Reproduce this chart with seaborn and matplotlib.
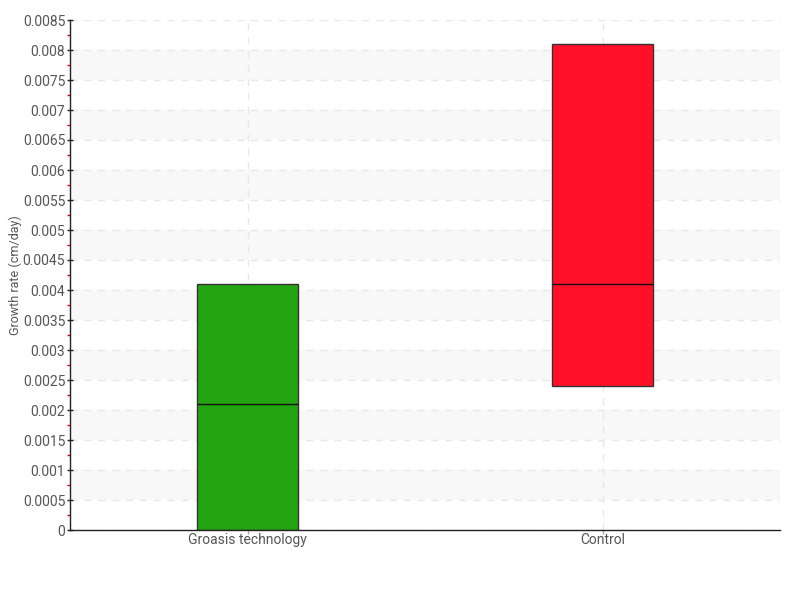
import matplotlib
matplotlib.use("Agg")
import matplotlib.pyplot as plt
import seaborn as sns
import pandas as pd
import numpy as np
from matplotlib.ticker import MultipleLocator, FuncFormatter

categories = ["Groasis technology", "Control"]
q1_values = [0.0, 0.0024]
median_values = [0.0021, 0.0041]
q3_values = [0.0041, 0.0081]
colors = ["#22a511", "#ff0f28"]

rows = []
for c, lo, md, hi in zip(categories, q1_values, median_values, q3_values):
    for v in [lo, lo, md, hi, hi]:
        rows.append({"group": c, "value": v})
df = pd.DataFrame(rows)

sns.set_style("white")
plt.rcParams['font.family'] = ['Roboto', 'DejaVu Sans']

fig = plt.figure(figsize=(8, 6), dpi=100)
ax = fig.add_axes([70/800, 70/600, 710/800, 510/600])

# alternating bands
for k in range(1, 16, 2):
    lo = k * 0.0005
    ax.axhspan(lo, lo + 0.0005, color="#f8f8f8", zorder=0, lw=0)

sns.boxplot(data=df, x="group", y="value", hue="group", palette=colors, legend=False,
            whis=0, showcaps=False, showfliers=False, width=0.282, ax=ax,
            linewidth=1, linecolor="#333333",
            medianprops=dict(color="#111111", linewidth=1),
            whiskerprops=dict(linewidth=0), saturation=1)

ax.set_xlim(-0.5, 1.5)
ax.set_ylim(0, 0.0085)
ax.yaxis.set_major_locator(MultipleLocator(0.0005))
ax.yaxis.set_minor_locator(MultipleLocator(0.00025))
ax.yaxis.set_major_formatter(FuncFormatter(lambda v, p: "0" if abs(v) < 1e-12 else f"{v:.4f}".rstrip("0")))

ax.grid(True, axis="y", which="major", linestyle=(0, (5, 5)), color="#e8e8e8", linewidth=1, zorder=0)
ax.grid(True, axis="x", which="major", linestyle=(0, (5, 5)), color="#e8e8e8", linewidth=1, zorder=0)
ax.set_axisbelow(True)

for s in ["top", "right"]:
    ax.spines[s].set_visible(False)
for s in ["left", "bottom"]:
    ax.spines[s].set_color("#222222")
    ax.spines[s].set_linewidth(1)

ax.tick_params(axis="y", which="major", left=True, direction="inout", length=5, width=1, color="#222222",
               labelsize=10, labelcolor="#555555", pad=1)
ax.tick_params(axis="y", which="minor", left=True, direction="out", length=2.5, width=1, color="#ee0000")
ax.tick_params(axis="x", which="major", bottom=True, length=3, width=1, color="#aaaaaa",
               labelsize=10, labelcolor="#555555", pad=-1)

ax.set_xlabel("")
ax.set_ylabel("Growth rate (cm/day)", fontsize=9, color="#555555")
ax.yaxis.set_label_coords(-0.067, 0.5)

fig.savefig("out.png", dpi=100)
